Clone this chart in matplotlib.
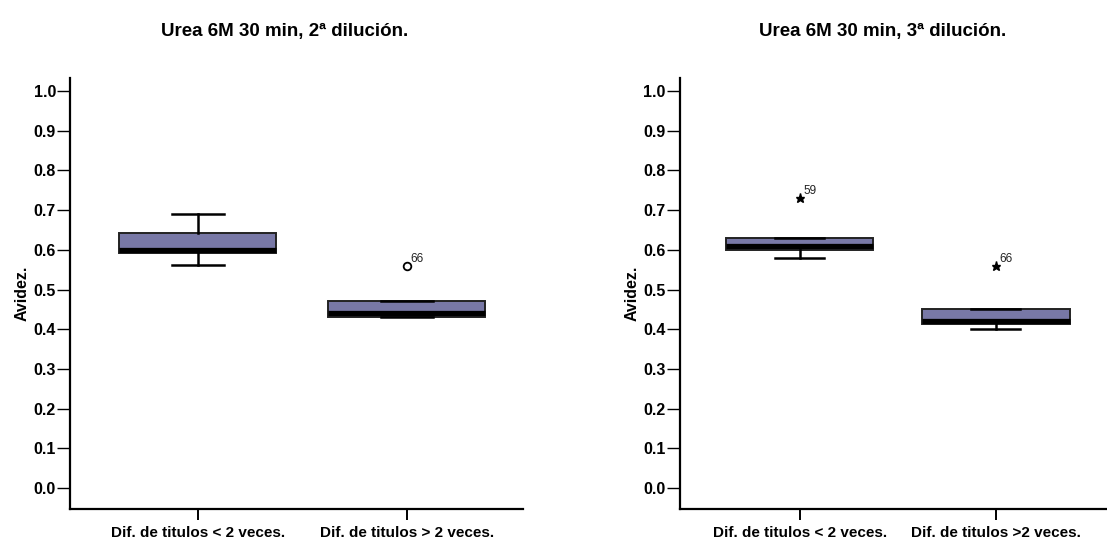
import matplotlib
matplotlib.use("Agg")
import matplotlib.pyplot as plt

plt.rcParams['font.family'] = ['Liberation Sans', 'DejaVu Sans']

# data
labels_left = ['Dif. de titulos < 2 veces.', 'Dif. de titulos > 2 veces.']
labels_right = ['Dif. de titulos < 2 veces.', 'Dif. de titulos >2 veces.']
titles = ['Urea 6M 30 min, 2ª dilución.', 'Urea 6M 30 min, 3ª dilución.']

q1_left = [0.592, 0.431]
med_left = [0.60, 0.441]
q3_left = [0.642, 0.472]
whislo_left = [0.561, 0.431]
whishi_left = [0.691, 0.472]
fliers_left = [[], [0.56]]
flier_ids_left = [[], ['66']]

q1_right = [0.60, 0.414]
med_right = [0.609, 0.421]
q3_right = [0.631, 0.45]
whislo_right = [0.58, 0.40]
whishi_right = [0.631, 0.45]
fliers_right = [[0.73], [0.56]]
flier_ids_right = [['59'], ['66']]

yticks = [0.0, 0.1, 0.2, 0.3, 0.4, 0.5, 0.6, 0.7, 0.8, 0.9, 1.0]

BOX = '#7878a6'


def make_stats(q1, med, q3, lo, hi, fl):
    return [dict(q1=a, med=b, q3=c, whislo=d, whishi=e, fliers=f)
            for a, b, c, d, e, f in zip(q1, med, q3, lo, hi, fl)]


def draw(ax, stats, ids, labels, title, marker, xmax):
    ax.bxp(stats, positions=[1, 2], widths=0.75, patch_artist=True,
           capwidths=0.25, showfliers=False,
           boxprops=dict(facecolor=BOX, edgecolor='#222222', linewidth=1.4),
           medianprops=dict(color='black', linewidth=3.8, solid_capstyle='butt'),
           whiskerprops=dict(color='black', linewidth=1.8),
           capprops=dict(color='black', linewidth=1.8))
    for pos, s, names in zip([1, 2], stats, ids):
        for v, n in zip(s['fliers'], names):
            if marker == 'o':
                ax.plot(pos, v, 'o', mfc='white', mec='black', ms=5.5, mew=1.3)
            else:
                ax.plot(pos, v, '*', color='black', ms=6.5)
            ax.annotate(n, (pos, v), xytext=(2.5, 3), textcoords='offset points',
                        fontsize=8.5, color='#222222')
    ax.set_xlim(0.388, xmax)
    ax.set_ylim(-0.054, 1.034)
    ax.set_yticks(yticks)
    ax.set_yticklabels([f'{t:.1f}' for t in yticks], fontweight='bold', fontsize=11.5)
    ax.set_xticks([1, 2])
    ax.set_xticklabels(labels, fontweight='bold', fontsize=11)
    ax.tick_params(axis='y', length=9.5, width=1.0, pad=0.5, color='black')
    ax.tick_params(axis='x', length=8, width=1.4, pad=4, color='black')
    for sp in ['top', 'right']:
        ax.spines[sp].set_visible(False)
    for sp in ['left', 'bottom']:
        ax.spines[sp].set_linewidth(1.6)
    ax.set_ylabel('Avidez.', fontweight='bold', fontsize=11.5, labelpad=3)
    ax.set_title(title, fontweight='bold', fontsize=13.5, pad=30, x=0.474)


fig = plt.figure(figsize=(11.07, 5.42), dpi=100)
ax1 = fig.add_axes([0.0632, 0.06, 0.409, 0.797])
ax2 = fig.add_axes([0.614, 0.06, 0.386, 0.797])

draw(ax1, make_stats(q1_left, med_left, q3_left, whislo_left, whishi_left, fliers_left),
     flier_ids_left, labels_left, titles[0], 'o', 2.555)
draw(ax2, make_stats(q1_right, med_right, q3_right, whislo_right, whishi_right, fliers_right),
     flier_ids_right, labels_right, titles[1], '*', 2.566)

fig.savefig('out.png', dpi=100)
